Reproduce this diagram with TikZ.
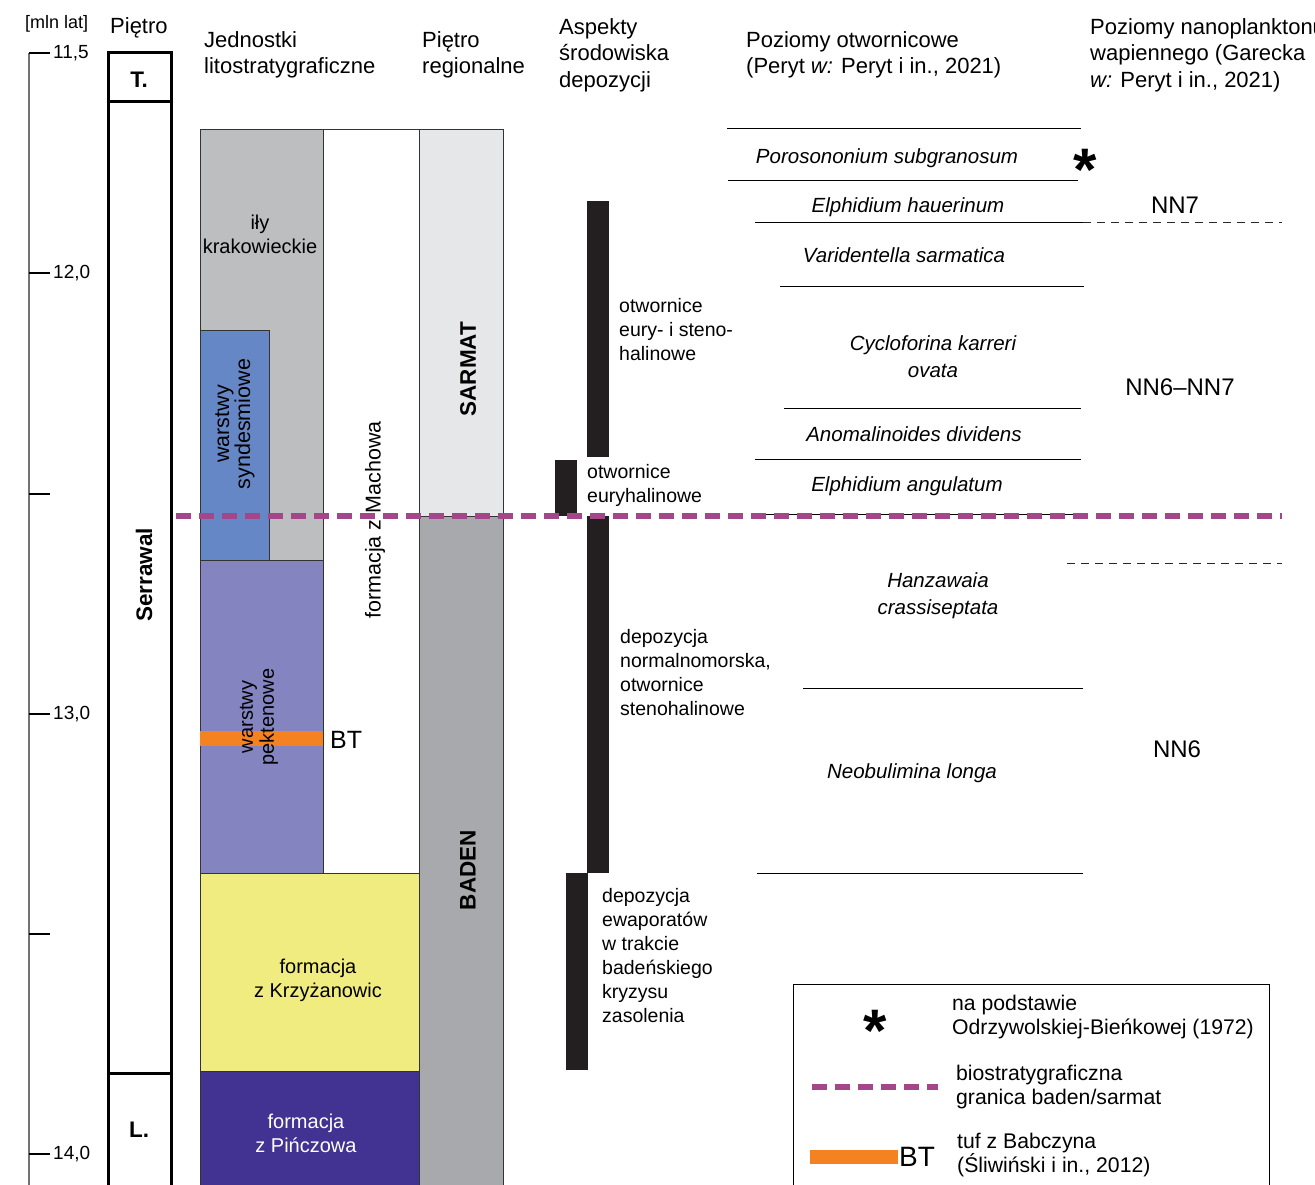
\documentclass[tikz,border=0pt]{standalone}
\usepackage{fontspec}
\setmainfont{Liberation Sans}
\definecolor{krak}{HTML}{BCBEC0}
\definecolor{synd}{HTML}{6687C5}
\definecolor{pekt}{HTML}{8384C0}
\definecolor{krzy}{HTML}{F0EC7F}
\definecolor{pinc}{HTML}{423292}
\definecolor{sarm}{HTML}{E6E7E8}
\definecolor{bade}{HTML}{A7A9AC}
\definecolor{tuf}{HTML}{F58220}
\definecolor{bound}{HTML}{A4478A}
\definecolor{barc}{HTML}{231F20}
\tikzset{
  blk/.style={draw=black!80, line width=0.8},
  head/.style={inner sep=0, anchor=west, align=left, font=\fontsize{22}{26.5}\selectfont},
  desc/.style={inner sep=0, anchor=west, align=left, font=\fontsize{19.5}{24}\selectfont},
  lbl/.style={inner sep=0, align=center, font=\fontsize{20}{24}\selectfont},
  rlbl/.style={inner sep=0, align=center, rotate=90, font=\fontsize{20}{21}\selectfont},
  rlblb/.style={inner sep=0, align=center, rotate=90, font=\fontsize{21.5}{21}\selectfont},
  bigb/.style={inner sep=0, font=\fontsize{22.5}{26}\selectfont\bfseries},
  zone/.style={inner sep=0, align=center, font=\fontsize{20.5}{27}\selectfont\itshape},
  nn/.style={inner sep=0, font=\fontsize{24}{28}\selectfont},
  scl/.style={inner sep=0, anchor=west, font=\fontsize{19}{22}\selectfont},
  zline/.style={line width=1, black},
  nnline/.style={line width=1, black!85, dash pattern=on 8 off 6},
  bline/.style={bound, line width=6, dash pattern=on 15 off 8},
  star/.style={inner sep=0, anchor=base, font=\fontsize{60}{60}\selectfont\bfseries},
  legt/.style={inner sep=0, anchor=west, align=left, font=\fontsize{21.2}{24}\selectfont},
}
\begin{document}
\begin{tikzpicture}[x=1pt,y=-1pt]
\useasboundingbox (0,0) rectangle (1315,1185);
% scale
\draw[black!55, line width=1.6] (29,53) -- (29,1190);
\foreach \yy in {53,273,494,714,934,1154} \draw[line width=1.4] (29,\yy) -- (50,\yy);
\node[scl] (s115) at (53,53) {11,5};
\node[scl] (s120) at (53,273) {12,0};
\node[scl] (s130) at (53,714) {13,0};
\node[scl] (s140) at (53,1154) {14,0};
% Pietro column
\draw[line width=3] (108,1190) -- (108,53) -- (171,53) -- (171,1190);
\draw[line width=3] (108,102) -- (171,102);
\draw[line width=3] (108,1073) -- (171,1073);
\node[bigb] (tort) at (139,80) {T.};
\node[bigb, rotate=90] (serr) at (144,575) {Serrawal};
\node[bigb] (lang) at (139,1130) {L.};
% litho column
\filldraw[blk, fill=krak] (200,129) rectangle (323,560);
\filldraw[blk, fill=white] (323,129) rectangle (419,873);
\filldraw[blk, fill=synd] (200,330) rectangle (269,560);
\filldraw[blk, fill=pekt] (200,560) rectangle (323,873);
\fill[tuf] (200,731) rectangle (323,746);
\filldraw[blk, fill=krzy] (200,873) rectangle (419,1071);
\filldraw[blk, fill=pinc] (200,1071) rectangle (419,1195);
% regional column
\filldraw[blk, fill=sarm] (419,129) rectangle (503,516);
\filldraw[blk, fill=bade] (419,516) rectangle (503,1195);
% litho labels
\node[lbl] (ily) at (260,234) {iły\\krakowieckie};
\node[rlblb] (syndl) at (235,424) {warstwy\\syndesmiowe};
\node[rlbl] (pektl) at (259,717) {warstwy\\pektenowe};
\node[rlblb] (mach) at (375,520) {formacja z Machowa};
\node[inner sep=0, anchor=west, font=\fontsize{25}{28}\selectfont] (bt) at (330,740) {BT};
\node[lbl] (krzyl) at (318,980) {formacja\\z Krzyżanowic};
\node[lbl, text=white] (pincl) at (306,1133) {formacja\\z Pińczowa};
\node[bigb, rotate=90] (sarmat) at (468,369) {SARMAT};
\node[bigb, rotate=90] (baden) at (468,870) {BADEN};
% environment bars
\fill[barc] (587,201) rectangle (609,457);
\fill[barc] (555,460) rectangle (577,516);
\fill[barc] (587,516) rectangle (609,873);
\fill[barc] (566,873) rectangle (588,1070);
\node[desc] (a1) at (619,330) {otwornice\\eury- i steno-\\halinowe};
\node[desc] (a2) at (587,485) {otwornice\\euryhalinowe};
\node[desc] (a3) at (620,673) {depozycja\\normalnomorska,\\otwornice\\stenohalinowe};
\node[desc] (a4) at (602,956) {depozycja\\ewaporatów\\w trakcie\\badeńskiego\\kryzysu\\zasolenia};
% foram zones
\draw[zline] (727,129) -- (1081,129);
\draw[zline] (728,181) -- (1078,181);
\draw[zline] (755,223) -- (1083,223);
\draw[zline] (780,286) -- (1084,286);
\draw[zline] (784,408) -- (1081,408);
\draw[zline] (755,459) -- (1081,459);
\draw[zline] (755,514) -- (1083,514);
\draw[zline] (803,688) -- (1083,688);
\draw[zline] (757,873) -- (1083,873);
\node[zone] (z1) at (887,158) {Porosononium subgranosum};
\node[zone] (z2) at (908,207) {Elphidium hauerinum};
\node[zone] (z3) at (904,255) {Varidentella sarmatica};
\node[zone] (z4) at (933,357) {Cycloforina karreri\\ovata};
\node[zone] (z5) at (914,434) {Anomalinoides dividens};
\node[zone] (z6) at (907,486) {Elphidium angulatum};
\node[zone] (z7) at (938,596) {Hanzawaia\\crassiseptata};
\node[zone] (z8) at (912,773) {Neobulimina longa};
\node[star] (st1) at (1085,191) {*};
% nannoplankton
\draw[nnline] (1083,223) -- (1282,223);
\draw[nnline] (1067,563) -- (1282,563);
\node[nn] (nn7) at (1175,205) {NN7};
\node[nn] (nn67) at (1180,387) {NN6–NN7};
\node[nn] (nn6) at (1177,749) {NN6};
% boundary
\draw[bline] (176,516) -- (1282,516);
% headings
\node[inner sep=0, anchor=west, font=\fontsize{18}{22}\selectfont] (hscale) at (25,24) {[mln lat]};
\node[head] (hpiet) at (110,28) {Piętro};
\node[head] (hlit) at (204,55) {Jednostki\\litostratygraficzne};
\node[head] (hreg) at (422,55) {Piętro\\regionalne};
\node[head] (hasp) at (559,55) {Aspekty\\środowiska\\depozycji};
\node[head] (hfor) at (746,55) {Poziomy otwornicowe\\(Peryt \textit{w:} Peryt i in., 2021)};
\node[head] (hnan) at (1090,55) {Poziomy nanoplanktonu\\wapiennego (Garecka\\\textit{w:} Peryt i in., 2021)};
% legend
\draw[line width=1] (793,1195) -- (793,984) -- (1269,984) -- (1269,1195);
\node[star] (st2) at (875,1051) {*};
\node[legt] (l1) at (952,1017) {na podstawie\\Odrzywolskiej-Bieńkowej (1972)};
\coordinate (ld1) at (812,1087);
\coordinate (ld2) at (938,1087);
\draw[bline] (ld1) -- (ld2);
\node[legt] (l2) at (956,1087) {biostratygraficzna\\granica baden/sarmat};
\fill[tuf] (810,1150) rectangle (898,1164);
\node[inner sep=0, anchor=west, font=\fontsize{28}{30}\selectfont] (lbt) at (899,1157) {BT};
\node[legt] (l3) at (957,1155) {tuf z Babczyna\\(Śliwiński i in., 2012)};
\end{tikzpicture}
\end{document}
